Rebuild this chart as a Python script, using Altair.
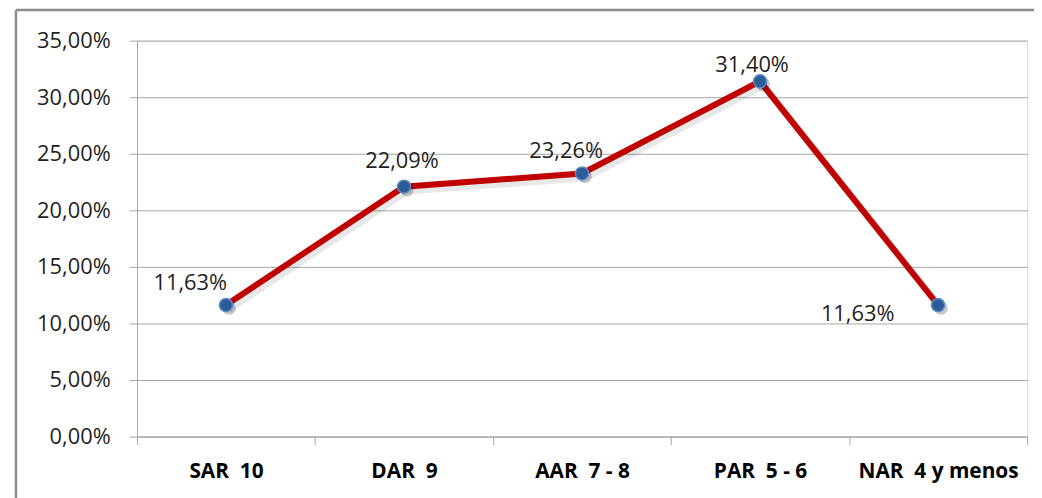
import altair as alt
import pandas as pd

categories = ["SAR  10", "DAR  9", "AAR  7 - 8", "PAR  5 - 6", "NAR  4 y menos"]
values = [0.1163, 0.2209, 0.2326, 0.3140, 0.1163]
y_ticks = [0, 0.05, 0.10, 0.15, 0.20, 0.25, 0.30, 0.35]

df = pd.DataFrame({"cat": categories, "val": values})
df["label"] = [f"{v * 100:.2f}%".replace(".", ",") for v in values]

W, H = 897, 399
PAD = {"left": 130, "top": 31, "right": 7, "bottom": 60}
NUM_FONT = "Open Sans"
CAT_FONT = "Open Sans"
GRID = "#A6A6A6"

x_enc = alt.X(
    "cat:N",
    sort=categories,
    bandPosition=0.5,
    scale=alt.Scale(type="band", paddingInner=0, paddingOuter=0),
    axis=alt.Axis(
        title=None,
        labelAngle=0,
        tickBand="extent",
        tickSize=8,
        tickColor=GRID,
        domainColor=GRID,
        grid=False,
        labelExpr="replace(datum.label, '  ', ' \u00a0')",
        labelFont=CAT_FONT,
        labelFontWeight="bold",
        labelFontSize=21,
        labelColor="#000000",
        labelPadding=16,
    ),
)
y_enc = alt.Y(
    "val:Q",
    scale=alt.Scale(domain=[0, 0.35], nice=False),
    axis=alt.Axis(
        title=None,
        values=y_ticks,
        labelExpr="replace(format(datum.value, '.2%'), '.', ',')",
        tickSize=8,
        tickColor=GRID,
        domainColor=GRID,
        gridColor=GRID,
        labelFont=NUM_FONT,
        labelFontSize=22,
        labelColor="#1F1F1F",
        labelPadding=19,
    ),
)

base = alt.Chart(df)

shadow_line = base.mark_line(
    color="#000000", opacity=0.09, strokeWidth=8, xOffset=3, yOffset=4
).encode(x=x_enc, y=y_enc)
line = base.mark_line(color="#C00000", strokeWidth=6).encode(x=x_enc, y=y_enc)
shadow_pts = base.mark_circle(
    color="#000000", opacity=0.22, size=190, xOffset=3, yOffset=3
).encode(x=x_enc, y=y_enc)
pts = base.mark_point(
    filled=True, size=175, fill="#2B5C98", stroke="#5B8AC6", strokeWidth=1.5, opacity=1
).encode(x=x_enc, y=y_enc)

# label placement (Excel manual placement), per category
offsets = {
    "SAR  10": (-36, -22),
    "DAR  9": (-2, -26),
    "AAR  7 - 8": (-16, -23),
    "PAR  5 - 6": (-8, -16),
    "NAR  4 y menos": (-81, 9),
}
label_layers = []
for cat, (dx, dy) in offsets.items():
    label_layers.append(
        base.transform_filter(alt.datum.cat == cat)
        .mark_text(
            font=NUM_FONT, fontSize=22, color="#1F1F1F", dx=dx, dy=dy,
            align="center", baseline="middle",
        )
        .encode(x=x_enc, y=y_enc, text="label:N")
    )

one = alt.Chart(pd.DataFrame({"a": [0]}))
border_left = one.mark_rule(color="#8C8C8C", strokeWidth=2.5).encode(
    x=alt.value(-122), y=alt.value(-31), y2=alt.value(H + 70)
)
border_top = one.mark_rule(color="#8C8C8C", strokeWidth=2.5).encode(
    x=alt.value(-122), x2=alt.value(W + 20), y=alt.value(-31)
)

chart = (
    alt.layer(shadow_line, line, shadow_pts, pts, *label_layers, border_left, border_top)
    .properties(
        width=W,
        height=H,
        autosize=alt.AutoSizeParams(type="none"),
        padding=PAD,
    )
    .configure_view(stroke=None)
    .configure(background="white")
)

chart.save("out.html", embed_options={"renderer": "svg", "actions": False})
